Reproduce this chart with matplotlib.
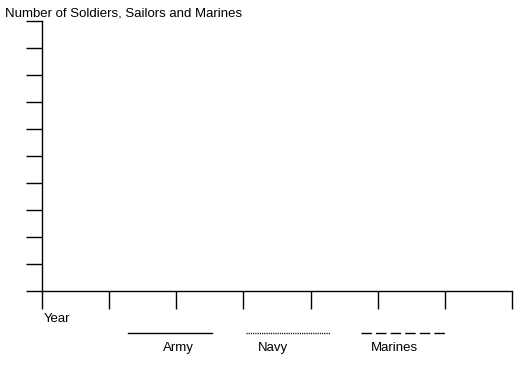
import matplotlib
matplotlib.use('Agg')
import matplotlib.pyplot as plt
from matplotlib.lines import Line2D

plt.rcParams['font.family'] = ['Liberation Sans', 'DejaVu Sans']

# Empty template chart: no values plotted yet
series = ['Army', 'Navy', 'Marines']
styles = ['-', (0, (0.8, 0.8)), (0, (7.5, 3))]
y_ticks = list(range(0, 11))   # 10 intervals on the vertical axis
x_ticks = list(range(0, 8))    # 7 intervals on the horizontal axis

W, H = 530, 368
fig = plt.figure(figsize=(W / 100, H / 100), dpi=100)
ax = fig.add_axes([42 / W, (H - 291) / H, (512 - 42) / W, (291 - 21) / H])

ax.set_xlim(x_ticks[0], x_ticks[-1])
ax.set_ylim(y_ticks[0], y_ticks[-1])
ax.set_xticks(x_ticks)
ax.set_yticks(y_ticks)
ax.set_xticklabels([])
ax.set_yticklabels([])
ax.tick_params(axis='y', direction='out', length=11.5, width=1, color='black')
ax.tick_params(axis='x', direction='out', length=13, width=1, color='black')
for s in ['top', 'right']:
    ax.spines[s].set_visible(False)
for s in ['left', 'bottom']:
    ax.spines[s].set_linewidth(1)
    ax.spines[s].set_color('black')

fig.text(5 / W, 1 - 14 / H, 'Number of Soldiers, Sailors and Marines',
         fontsize=9.5, va='center', ha='left')
fig.text(44 / W, 1 - 318.5 / H, 'Year', fontsize=9.5, va='center', ha='left')

# legend: line key with label underneath
keys = [(128, 212, 178), (246, 330, 273), (361, 446, 394)]
for (x0, x1, xt), name, ls in zip(keys, series, styles):
    fig.add_artist(Line2D([x0 / W, x1 / W], [1 - 333 / H, 1 - 333 / H],
                          color='black', linestyle=ls,
                          linewidth=1, transform=fig.transFigure))
    fig.text(xt / W, 1 - 348 / H, name, fontsize=9.5,
             va='center', ha='center')

fig.savefig('out.png', dpi=100)
